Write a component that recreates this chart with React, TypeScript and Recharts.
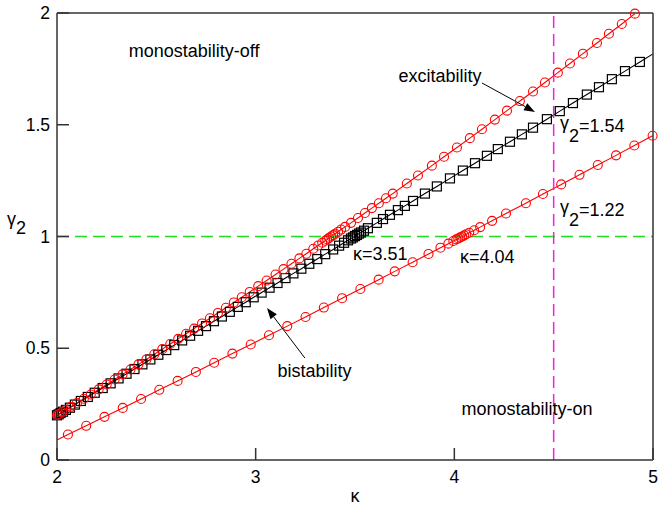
import React from "react";
import { LineChart, Line, XAxis, YAxis, ReferenceLine, ReferenceDot } from "recharts";

const kappaTicks = [2, 3, 4, 5];
const gammaTicks = [0, 0.5, 1, 1.5, 2];

// upper red curve (circles)
const upperK = [2.0, 2.01, 2.025, 2.045, 2.07, 2.1, 2.135, 2.17, 2.21, 2.25, 2.29, 2.33, 2.37, 2.41, 2.45, 2.49, 2.53, 2.57, 2.61, 2.65, 2.69, 2.73, 2.77, 2.81, 2.85, 2.89, 2.93, 2.97, 3.013, 3.055, 3.1, 3.14, 3.18, 3.22, 3.255, 3.29, 3.315, 3.335, 3.35, 3.36, 3.37, 3.38, 3.39, 3.4, 3.415, 3.43, 3.45, 3.48, 3.515, 3.55, 3.585, 3.62, 3.656, 3.69, 3.761, 3.817, 3.887, 3.948, 4.013, 4.078, 4.139, 4.204, 4.265, 4.33, 4.396, 4.456, 4.521, 4.582, 4.647, 4.718, 4.778, 4.843, 4.909];
const upperG = [0.2, 0.205, 0.214, 0.225, 0.238, 0.255, 0.274, 0.293, 0.316, 0.338, 0.36, 0.383, 0.405, 0.428, 0.45, 0.473, 0.496, 0.519, 0.542, 0.565, 0.588, 0.611, 0.634, 0.658, 0.681, 0.705, 0.728, 0.752, 0.778, 0.803, 0.83, 0.854, 0.878, 0.902, 0.923, 0.945, 0.96, 0.972, 0.981, 0.987, 0.994, 1.0, 1.006, 1.012, 1.021, 1.031, 1.043, 1.061, 1.083, 1.105, 1.127, 1.149, 1.171, 1.192, 1.237, 1.273, 1.317, 1.357, 1.398, 1.44, 1.48, 1.523, 1.563, 1.606, 1.649, 1.689, 1.733, 1.774, 1.818, 1.866, 1.907, 1.951, 1.997];

// black curve (squares)
const blackK = [2.0, 2.008, 2.018, 2.03, 2.045, 2.065, 2.09, 2.12, 2.155, 2.19, 2.23, 2.27, 2.31, 2.35, 2.39, 2.43, 2.47, 2.51, 2.55, 2.59, 2.63, 2.67, 2.71, 2.75, 2.79, 2.83, 2.87, 2.91, 2.95, 2.99, 3.03, 3.07, 3.11, 3.15, 3.19, 3.23, 3.27, 3.31, 3.35, 3.39, 3.42, 3.445, 3.465, 3.48, 3.49, 3.5, 3.51, 3.52, 3.53, 3.545, 3.565, 3.61, 3.641, 3.676, 3.716, 3.751, 3.792, 3.852, 3.912, 3.978, 4.043, 4.104, 4.164, 4.219, 4.28, 4.34, 4.396, 4.466, 4.531, 4.597, 4.667, 4.728, 4.793, 4.859, 4.934, 5.0];
const blackG = [0.2, 0.204, 0.21, 0.216, 0.224, 0.234, 0.248, 0.264, 0.282, 0.301, 0.322, 0.343, 0.365, 0.386, 0.407, 0.428, 0.45, 0.471, 0.492, 0.514, 0.535, 0.556, 0.578, 0.599, 0.621, 0.642, 0.663, 0.685, 0.706, 0.728, 0.749, 0.771, 0.792, 0.814, 0.835, 0.856, 0.878, 0.899, 0.921, 0.942, 0.959, 0.972, 0.983, 0.991, 0.996, 1.002, 1.007, 1.013, 1.018, 1.026, 1.037, 1.061, 1.078, 1.097, 1.118, 1.137, 1.159, 1.192, 1.224, 1.26, 1.295, 1.328, 1.361, 1.391, 1.424, 1.457, 1.487, 1.525, 1.561, 1.597, 1.635, 1.668, 1.704, 1.74, 1.781, 1.817];

// lower red curve (circles)
const lowerK = [2.0, 2.055, 2.147, 2.239, 2.331, 2.423, 2.515, 2.607, 2.699, 2.791, 2.883, 2.975, 3.067, 3.159, 3.251, 3.343, 3.435, 3.527, 3.619, 3.7, 3.79, 3.87, 3.93, 3.97, 3.995, 4.01, 4.02, 4.03, 4.04, 4.05, 4.06, 4.075, 4.1, 4.13, 4.19, 4.26, 4.36, 4.446, 4.538, 4.63, 4.722, 4.814, 4.906, 4.998];
const lowerG = [0.09, 0.114, 0.153, 0.193, 0.233, 0.273, 0.314, 0.354, 0.394, 0.435, 0.476, 0.517, 0.558, 0.599, 0.64, 0.682, 0.724, 0.765, 0.807, 0.844, 0.885, 0.922, 0.95, 0.968, 0.98, 0.987, 0.991, 0.996, 1.0, 1.005, 1.01, 1.017, 1.028, 1.042, 1.07, 1.103, 1.149, 1.19, 1.233, 1.276, 1.32, 1.363, 1.407, 1.451];

const toRows = (ks: number[], gs: number[]) => ks.map((k, i) => ({ k, g: gs[i] }));
const upperData = toRows(upperK, upperG);
const blackData = toRows(blackK, blackG);
const lowerData = toRows(lowerK, lowerG);

const FONT = "Arial, 'Liberation Sans', sans-serif";
const NOTE_SIZE = 18;
const axisStyle = { stroke: "#333", strokeWidth: 1.5 };
const tickStyle = { fill: "#000", fontSize: 17.5 };

const circleDot = (skip: number[]) => (p: any) => {
  if (skip.includes(p.index) || p.cx == null) return <g key={`c${p.index}`} />;
  return <circle key={`c${p.index}`} cx={p.cx} cy={p.cy} r={4.5} fill="none" stroke="#ff0000" strokeWidth={1.1} />;
};

const squareDot = (skip: number[]) => (p: any) => {
  if (skip.includes(p.index) || p.cx == null) return <g key={`s${p.index}`} />;
  return <rect key={`s${p.index}`} x={p.cx - 4.5} y={p.cy - 4.5} width={9} height={9} fill="none" stroke="#000" strokeWidth={1.2} />;
};

const Arrow = (p: any) => {
  const { x1, y1, x2, y2 } = p;
  const a = Math.atan2(y2 - y1, x2 - x1);
  const L = 11;
  const W = 4;
  const bx = x2 - L * Math.cos(a);
  const by = y2 - L * Math.sin(a);
  const pts = `${x2},${y2} ${bx - W * Math.sin(a)},${by + W * Math.cos(a)} ${bx + W * Math.sin(a)},${by - W * Math.cos(a)}`;
  return (
    <g>
      <line x1={x1} y1={y1} x2={bx} y2={by} stroke="#000" strokeWidth={1} />
      <polygon points={pts} fill="#000" />
    </g>
  );
};

const notes = [
  { k: 2.69, g: 1.803, text: "monostability-off" },
  { k: 3.928, g: 1.691, text: "excitability" },
  { k: 3.296, g: 0.371, text: "bistability" },
  { k: 4.366, g: 0.201, text: "monostability-on" },
];
const kappaNotes = [
  { k: 3.49, g: 0.895, text: "κ=3.51" },
  { k: 4.028, g: 0.881, text: "κ=4.04" },
];
const gammaNotes = [
  { k: 4.532, g: 1.468, text: "=1.54" },
  { k: 4.532, g: 1.092, text: "=1.22" },
];

const KappaLabel = (props: any) => {
  const vb = props.viewBox;
  return (
    <text x={vb.x + vb.width / 2} y={vb.y + 42} textAnchor="middle" fontSize={NOTE_SIZE} fill="#000">
      κ
    </text>
  );
};

const GammaLabel = (props: any) => {
  const vb = props.viewBox;
  const b = vb.y + vb.height / 2 - 12;
  return (
    <text x={vb.x + 7} y={b} fontSize={NOTE_SIZE} fill="#000">
      <tspan>γ</tspan>
      <tspan y={b + 9}>2</tspan>
    </text>
  );
};

export default function App() {
  return (
    <div style={{ position: "absolute", left: 0, top: 0, fontFamily: FONT, background: "#fff" }}>
      <LineChart width={664} height={510} margin={{ top: 12, right: 10, bottom: 0, left: 0 }} style={{ fontFamily: FONT }}>
        <XAxis xAxisId="b" dataKey="k" type="number" domain={[2, 5]} ticks={kappaTicks} interval={0}
          tickSize={-12} tickMargin={23} height={50} axisLine={axisStyle} tickLine={axisStyle} tick={tickStyle}
          label={{ content: KappaLabel }} />
        <XAxis xAxisId="t" orientation="top" dataKey="k" type="number" domain={[2, 5]} ticks={kappaTicks} interval={0}
          tickSize={-12} height={1} axisLine={axisStyle} tickLine={axisStyle} tickFormatter={() => ""} />
        <YAxis yAxisId="l" type="number" domain={[0, 2]} ticks={gammaTicks} interval={0}
          tickSize={-12} tickMargin={19} width={57} axisLine={axisStyle} tickLine={axisStyle} tick={tickStyle}
          label={{ content: GammaLabel }} />
        <YAxis yAxisId="r" orientation="right" type="number" domain={[0, 2]} ticks={gammaTicks} interval={0}
          tickSize={-12} width={1} axisLine={axisStyle} tickLine={axisStyle} tickFormatter={() => ""} />

        <Line xAxisId="b" yAxisId="l" data={blackData} dataKey="g" type="linear" stroke="#000" strokeWidth={1.1}
          dot={squareDot([blackData.length - 1])} activeDot={false} isAnimationActive={false} />
        <Line xAxisId="b" yAxisId="l" data={upperData} dataKey="g" type="linear" stroke="#ff0000" strokeWidth={1.1}
          dot={circleDot([])} activeDot={false} isAnimationActive={false} />
        <Line xAxisId="b" yAxisId="l" data={lowerData} dataKey="g" type="linear" stroke="#ff0000" strokeWidth={1.1}
          dot={circleDot([0])} activeDot={false} isAnimationActive={false} />

        <ReferenceLine xAxisId="b" yAxisId="l" y={1} stroke="#22dd22" strokeWidth={1.5} strokeDasharray="12 6" />
        <ReferenceLine xAxisId="b" yAxisId="l" x={4.5} stroke="#ee22ee" strokeWidth={1.5} strokeDasharray="12 6" />

        <ReferenceLine xAxisId="b" yAxisId="l" segment={[{ x: 4.139, y: 1.687 }, { x: 4.406, y: 1.557 }]} shape={Arrow} />
        <ReferenceLine xAxisId="b" yAxisId="l" segment={[{ x: 3.248, y: 0.456 }, { x: 3.057, y: 0.68 }]} shape={Arrow} />

        {notes.map((n) => (
          <ReferenceDot key={n.text} xAxisId="b" yAxisId="l" x={n.k} y={n.g} r={0}
            shape={(p: any) => (
              <text x={p.cx} y={p.cy} textAnchor="middle" fontSize={NOTE_SIZE} fill="#000">{n.text}</text>
            )} />
        ))}
        {kappaNotes.map((n) => (
          <ReferenceDot key={n.text} xAxisId="b" yAxisId="l" x={n.k} y={n.g} r={0}
            shape={(p: any) => (
              <text x={p.cx} y={p.cy} textAnchor="start" fontSize={NOTE_SIZE} fill="#000">{n.text}</text>
            )} />
        ))}
        {gammaNotes.map((n) => (
          <ReferenceDot key={n.text} xAxisId="b" yAxisId="l" x={n.k} y={n.g} r={0}
            shape={(p: any) => (
              <text x={p.cx} y={p.cy} textAnchor="start" fontSize={NOTE_SIZE} fill="#000">
                <tspan y={p.cy - 3}>γ</tspan>
                <tspan y={p.cy + 10}>2</tspan>
                <tspan y={p.cy}>{n.text}</tspan>
              </text>
            )} />
        ))}
      </LineChart>
    </div>
  );
}
